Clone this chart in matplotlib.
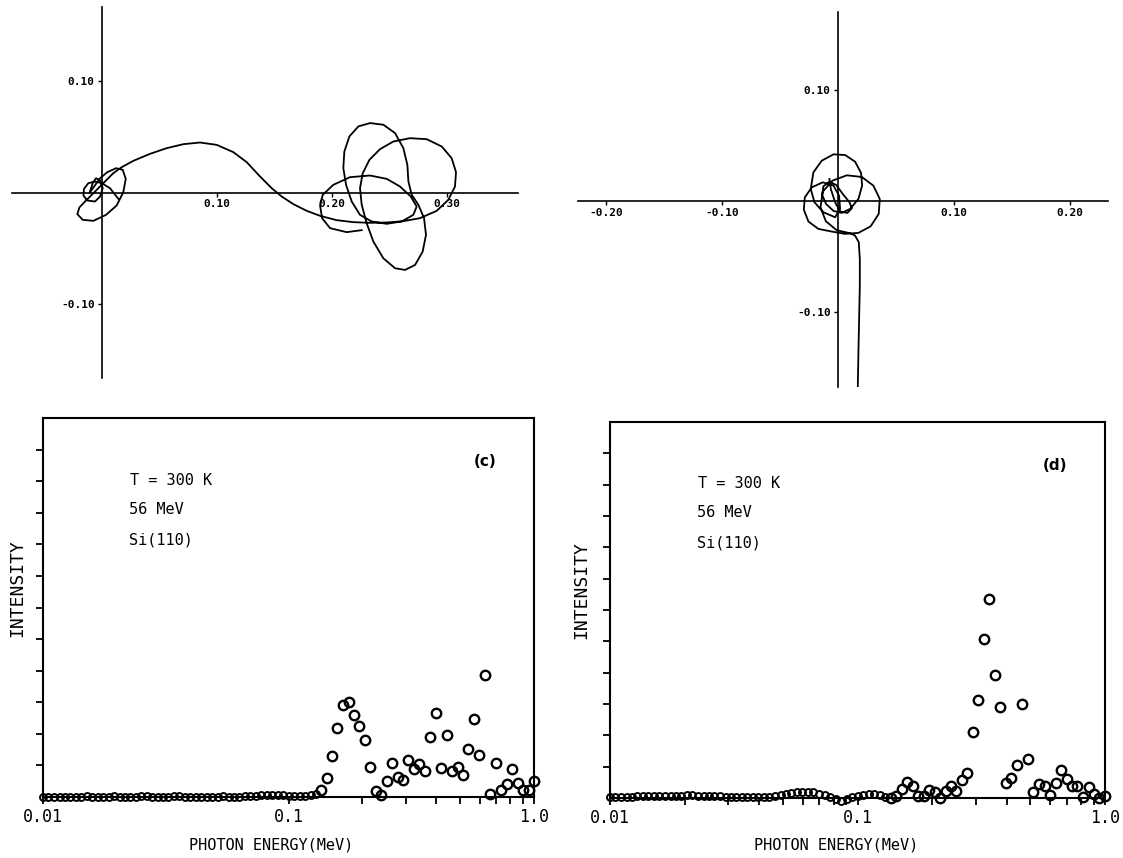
import numpy as np
import matplotlib
matplotlib.use('Agg')
import matplotlib.pyplot as plt
from matplotlib.ticker import FixedLocator, NullFormatter

plt.rcParams['font.family'] = ['DejaVu Sans Mono', 'DejaVu Sans']

# trajectory in the transverse plane, panel (a)
traj_a_x = [0.0145, 0.0072, 0.0000, -0.0058, -0.0116, -0.0154, -0.0159, -0.0125, -0.0058, -0.0014, 0.0009, -0.0014, -0.0049, -0.0078, -0.0107,
            -0.0014, 0.0049, 0.0125, 0.0183, 0.0209, 0.0188, 0.0130, 0.0038, -0.0072, -0.0165, -0.0212, -0.0194, -0.0145, -0.0072, 0.0014, 0.0101, 0.0174,
            0.0275, 0.0420, 0.0565, 0.0710, 0.0855, 0.1000, 0.1145, 0.1261, 0.1377, 0.1478, 0.1565, 0.1667, 0.1783, 0.1899,
            0.2043, 0.2188, 0.2333, 0.2478, 0.2623, 0.2768, 0.2913, 0.3014, 0.3072, 0.3081, 0.3043, 0.2957, 0.2826, 0.2681, 0.2536,
            0.2420, 0.2328, 0.2270, 0.2246, 0.2261, 0.2304, 0.2362, 0.2449, 0.2551, 0.2638, 0.2725, 0.2791, 0.2820, 0.2803, 0.2754,
            0.2696, 0.2667, 0.2658, 0.2623, 0.2551, 0.2449, 0.2333, 0.2232, 0.2154, 0.2110, 0.2101, 0.2125, 0.2174, 0.2246, 0.2348,
            0.2478, 0.2609, 0.2710, 0.2739, 0.2687, 0.2594, 0.2478, 0.2333, 0.2159, 0.2014, 0.1922, 0.1899, 0.1916, 0.1986, 0.2130, 0.2261]
traj_a_y = [-0.0057, 0.0039, 0.0084, 0.0099, 0.0084, 0.0033, -0.0027, -0.0072, -0.0081, -0.0036, 0.0039, 0.0108, 0.0129, 0.0084, -0.0006,
            0.0129, 0.0183, 0.0219, 0.0204, 0.0123, 0.0003, -0.0117, -0.0201, -0.0255, -0.0246, -0.0195, -0.0135, -0.0081, -0.0006, 0.0084, 0.0174, 0.0228,
            0.0285, 0.0348, 0.0399, 0.0435, 0.0450, 0.0429, 0.0363, 0.0273, 0.0144, 0.0039, -0.0036, -0.0105, -0.0165, -0.0210,
            -0.0249, -0.0267, -0.0273, -0.0270, -0.0258, -0.0231, -0.0165, -0.0066, 0.0054, 0.0183, 0.0309, 0.0414, 0.0480, 0.0489, 0.0459,
            0.0390, 0.0294, 0.0174, 0.0039, -0.0111, -0.0276, -0.0441, -0.0592, -0.0682, -0.0697, -0.0652, -0.0532, -0.0381, -0.0231, -0.0111,
            -0.0021, 0.0099, 0.0249, 0.0399, 0.0535, 0.0610, 0.0625, 0.0595, 0.0505, 0.0369, 0.0219, 0.0069, -0.0081, -0.0201, -0.0261,
            -0.0282, -0.0261, -0.0201, -0.0126, -0.0036, 0.0054, 0.0123, 0.0153, 0.0138, 0.0069, -0.0021, -0.0117, -0.0231, -0.0321, -0.0357, -0.0339]

# trajectory, panel (b)
traj_b_x = [0.0172, 0.0178, 0.0184, 0.0190, 0.0190, 0.0181, 0.0149, 0.0106,
            -0.0009, -0.0103, -0.0149, -0.0129, -0.0046, 0.0078, 0.0207, 0.0307, 0.0362, 0.0353, 0.0284, 0.0178, 0.0063,
            -0.0052, -0.0167, -0.0253, -0.0293, -0.0284, -0.0224, -0.0129, -0.0037, 0.0011, 0.0020, -0.0023,
            -0.0124, -0.0201, -0.0233, -0.0210, -0.0138, -0.0037, 0.0063, 0.0149, 0.0201, 0.0210, 0.0178, 0.0106, 0.0034,
            -0.0037, -0.0101, -0.0135, -0.0124, -0.0072, -0.0014, 0.0043, 0.0101, 0.0121, 0.0083, 0.0020, -0.0023, -0.0060, -0.0072]
traj_b_y = [-0.1712, -0.1366, -0.1066, -0.0766, -0.0526, -0.0375, -0.0315, -0.0294,
            -0.0267, -0.0186, -0.0060, 0.0081, 0.0180, 0.0228, 0.0213, 0.0135, 0.0015, -0.0120, -0.0231, -0.0291, -0.0300,
            -0.0279, -0.0255, -0.0189, -0.0081, 0.0030, 0.0120, 0.0165, 0.0135, 0.0045, -0.0075, -0.0150,
            -0.0105, -0.0015, 0.0105, 0.0255, 0.0360, 0.0417, 0.0411, 0.0351, 0.0249, 0.0135, 0.0015, -0.0075, -0.0111,
            -0.0093, -0.0030, 0.0051, 0.0129, 0.0171, 0.0141, 0.0060, -0.0015, -0.0069, -0.0111, -0.0099, -0.0015, 0.0105, 0.0195]

# photon energy grid (MeV)
energy = [0.0100, 0.0105, 0.0111, 0.0117, 0.0123, 0.0129, 0.0136, 0.0143, 0.0151, 0.0158,
          0.0167, 0.0176, 0.0185, 0.0194, 0.0205, 0.0215, 0.0227, 0.0239, 0.0251, 0.0264,
          0.0278, 0.0293, 0.0308, 0.0324, 0.0341, 0.0359, 0.0378, 0.0398, 0.0419, 0.0441,
          0.0464, 0.0489, 0.0514, 0.0541, 0.0570, 0.0599, 0.0631, 0.0664, 0.0699, 0.0736,
          0.0774, 0.0815, 0.0858, 0.0903, 0.0950,
          0.100, 0.105, 0.111, 0.117, 0.123, 0.129, 0.136, 0.143, 0.151, 0.158,
          0.167, 0.176, 0.185, 0.194, 0.205, 0.215, 0.227, 0.239, 0.251, 0.264,
          0.278, 0.293, 0.308, 0.324, 0.341, 0.359, 0.378, 0.398, 0.419, 0.441,
          0.464, 0.489, 0.514, 0.541, 0.570, 0.599, 0.631, 0.664, 0.699, 0.736,
          0.774, 0.815, 0.858, 0.903, 0.950, 1.000]

intensity_c = [0.01, 0.01, 0.0, 0.01, 0.01, 0.0, 0.01, 0.01, 0.02, 0.01,
               0.01, 0.0, 0.01, 0.02, 0.01, 0.01, 0.0, 0.01, 0.02, 0.02,
               0.01, 0.01, 0.0, 0.01, 0.02, 0.02, 0.01, 0.01, 0.0, 0.01,
               0.01, 0.0, 0.01, 0.02, 0.01, 0.01, 0.0, 0.02, 0.03, 0.04,
               0.05, 0.06, 0.06, 0.06, 0.05, 0.04, 0.03, 0.02, 0.02, 0.05, 0.10,
               0.22, 0.61, 1.31, 2.19, 2.92, 3.02, 2.59, 2.24, 1.79, 0.94,
               0.18, 0.06, 0.52, 1.09, 0.62, 0.55, 1.16, 0.88, 1.05, 0.81,
               1.90, 2.67, 0.92, 1.95, 0.81, 0.96, 0.69, 1.51, 2.47, 1.32,
               3.87, 0.10, 1.09, 0.22, 0.41, 0.88, 0.45, 0.21, 0.21, 0.52]

intensity_d = [0.03, 0.03, 0.03, 0.04, 0.04, 0.05, 0.05, 0.06, 0.07, 0.07,
               0.07, 0.06, 0.06, 0.07, 0.08, 0.08, 0.07, 0.06, 0.06, 0.05,
               0.05, 0.04, 0.04, 0.03, 0.03, 0.03, 0.02, 0.02, 0.02, 0.03,
               0.05, 0.08, 0.12, 0.15, 0.18, 0.20, 0.20, 0.18, 0.14, 0.08,
               0.02, -0.04, -0.08, -0.04, 0.02, 0.06, 0.08, 0.13, 0.13, 0.10, 0.03,
               0.0, 0.06, 0.28, 0.52, 0.39, 0.06, 0.07, 0.26, 0.20, 0.01,
               0.23, 0.38, 0.23, 0.58, 0.81, 2.12, 3.14, 5.07, 6.34, 3.94,
               2.92, 0.47, 0.65, 1.05, 3.00, 1.25, 0.18, 0.44, 0.39, 0.09,
               0.47, 0.88, 0.60, 0.37, 0.37, 0.03, 0.35, 0.12, 0.0, 0.05]

W, H = 1123, 858
fig = plt.figure(figsize=(W / 100, H / 100), dpi=100)


def box(left, top, right, bottom):
    return [left / W, 1 - bottom / H, (right - left) / W, (bottom - top) / H]


def orbit(ax, xs, ys, xlim, ylim, xt, yt):
    ax.plot(xs, ys, color='black', lw=1.3, solid_joinstyle='round')
    ax.set_xlim(*xlim)
    ax.set_ylim(*ylim)
    ax.spines['top'].set_visible(False)
    ax.spines['right'].set_visible(False)
    ax.spines['left'].set_position('zero')
    ax.spines['bottom'].set_position('zero')
    for s in ['left', 'bottom']:
        ax.spines[s].set_linewidth(1.2)
    ax.set_xticks(xt)
    ax.set_xticklabels(['%.2f' % v for v in xt], fontweight='bold')
    ax.set_yticks(yt)
    ax.set_yticklabels(['%.2f' % v for v in yt], fontweight='bold')
    ax.tick_params(direction='out', length=3, width=1, labelsize=8, pad=2)
    ax.patch.set_visible(False)


ax_a = fig.add_axes(box(12, 7, 518, 378))
orbit(ax_a, traj_a_x, traj_a_y, (-0.078, 0.362), (-0.167, 0.167), [0.1, 0.2, 0.3], [-0.1, 0.1])

ax_b = fig.add_axes(box(578, 12, 1108, 387))
orbit(ax_b, traj_b_x, traj_b_y, (-0.224, 0.233), (-0.168, 0.170), [-0.2, -0.1, 0.1, 0.2], [-0.1, 0.1])


def spectrum(ax, inten, minor, tag):
    e = np.array(energy)
    y = np.array(inten)
    small = e < 0.13
    ax.plot(e[small], y[small], 'o', mfc='none', mec='black', ms=5.0, mew=1.4, clip_on=False)
    ax.plot(e[~small], y[~small], 'o', mfc='none', mec='black', ms=6.8, mew=1.7, clip_on=False)
    ax.set_xscale('log')
    ax.set_xlim(0.01, 1.0)
    ax.set_ylim(0, 12)
    ax.xaxis.set_major_locator(FixedLocator([0.01, 0.1, 1.0]))
    ax.set_xticklabels(['0.01', '0.1', '1.0'])
    ax.xaxis.set_minor_locator(FixedLocator(minor))
    ax.xaxis.set_minor_formatter(NullFormatter())
    ax.set_yticks(range(1, 12))
    ax.set_yticklabels([])
    ax.tick_params(which='both', direction='out', length=5, width=1.3, labelsize=12, pad=3)
    for s in ax.spines.values():
        s.set_linewidth(1.5)
    ax.text(0.178, 0.836, 'T = 300 K', transform=ax.transAxes, fontsize=11, va='center')
    ax.text(0.175, 0.758, '56 MeV', transform=ax.transAxes, fontsize=11, va='center')
    ax.text(0.175, 0.678, 'Si(110)', transform=ax.transAxes, fontsize=11, va='center')
    ax.text(0.90, 0.884, tag, transform=ax.transAxes, fontsize=11, fontweight='bold',
            ha='center', va='center', family='DejaVu Sans')


upper = [0.2, 0.3, 0.4, 0.5, 0.6, 0.7, 0.8, 0.9]
lower = [0.02, 0.03, 0.04, 0.05, 0.06, 0.07, 0.08, 0.09]

ax_c = fig.add_axes(box(43, 418, 534, 797))
spectrum(ax_c, intensity_c, upper, '(c)')

ax_d = fig.add_axes(box(610, 422, 1105, 798))
spectrum(ax_d, intensity_d, lower + upper, '(d)')

for cx in [271, 836]:
    fig.text(cx / W, 1 - 845 / H, 'PHOTON ENERGY(MeV)', fontsize=11, ha='center', va='center')
for lx, ly in [(17, 588), (581, 590)]:
    fig.text(lx / W, 1 - ly / H, 'INTENSITY', fontsize=13, rotation=90, ha='center', va='center')

fig.savefig('out.png', dpi=100, facecolor='white')
